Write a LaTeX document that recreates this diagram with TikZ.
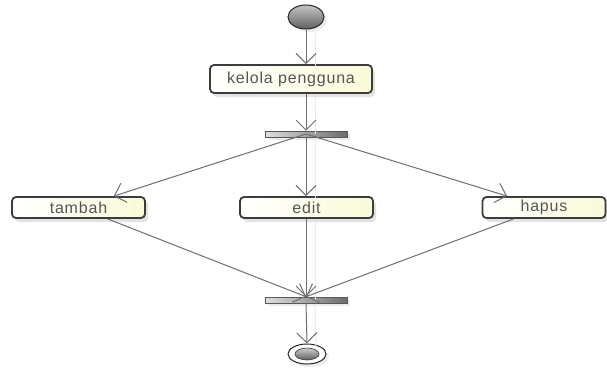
\documentclass[tikz,border=0pt]{standalone}
\usepackage{fontspec}
\newfontfamily\lblfont[LetterSpace=5]{Liberation Sans}
\usetikzlibrary{arrows.meta,shapes.geometric,shadows}
\definecolor{edgegray}{HTML}{6E6E6E}
\definecolor{boxborder}{HTML}{3C3C3C}
\definecolor{txtgray}{HTML}{555555}
\definecolor{cream}{HTML}{FAFAD8}
\tikzset{
  act/.style={draw=boxborder, line width=1.8pt, rounded corners=4pt,
    left color=white, right color=cream, inner sep=0pt,
    font=\lblfont\fontsize{16}{18}\selectfont, text=txtgray,
    drop shadow={shadow xshift=3pt, shadow yshift=-4pt, fill=black!22}},
  bar/.style={draw=gray!70!black, line width=0.6pt, minimum width=82pt,
    minimum height=6pt, inner sep=0pt, left color=gray!25, right color=gray!85!black,
    drop shadow={shadow xshift=3pt, shadow yshift=-3pt, fill=black!15}},
  flow/.style={draw=edgegray, line width=1pt,
    -{Straight Barb[length=10pt,width=20pt,line width=1pt]}},
  flowshadow/.style={draw=black!8, line width=1pt}
}
\begin{document}
\begin{tikzpicture}[x=1pt,y=-1pt]
\useasboundingbox (0,0) rectangle (607,368);
% nodes
\node[ellipse, draw=gray!30!black, line width=1pt, minimum width=36pt, minimum height=24pt,
  inner sep=0pt, top color=gray!45, bottom color=gray!75!black,
  drop shadow={shadow xshift=3pt, shadow yshift=-3pt, fill=black!15}] (start) at (306,17) {};
\node[act, minimum width=162pt, minimum height=28pt] (kelola) at (291,79) {kelola pengguna};
\node[bar] (fork) at (306,134) {};
\node[act, minimum width=133pt, minimum height=21pt] (tambah) at (78.5,207.5) {tambah};
\node[act, minimum width=133pt, minimum height=21pt] (edit) at (306.5,207.5) {edit};
\node[act, minimum width=123pt, minimum height=21pt] (hapus) at (544,207.5) {hapus};
\node[bar] (join) at (306,300) {};
\node[ellipse, draw=gray!30!black, line width=1pt, fill=white, minimum width=38pt,
  minimum height=20pt, inner sep=0pt,
  drop shadow={shadow xshift=3pt, shadow yshift=-3pt, fill=black!15}] (final) at (307,354) {};
\node[ellipse, draw=gray!40!black, line width=0.6pt, top color=gray!40, bottom color=gray!75!black,
  minimum width=24pt, minimum height=12pt, inner sep=0pt] (finalin) at (307,354) {};
% faint shadow connectors
\begin{scope}[transform canvas={xshift=9pt,yshift=-3pt}]
\draw[flowshadow] (start) -- (start |- kelola.north);
\draw[flowshadow] (kelola.south -| fork.north) -- (fork.north);
\draw[flowshadow] (fork.south) -- (edit.north -| fork.south);
\draw[flowshadow] (edit.south -| join.north) -- (join.north);
\draw[flowshadow] (join.south) -- (final.north);
\end{scope}
% connectors
\draw[flow] (start) -- (start |- kelola.north);
\draw[flow] (kelola.south -| fork.north) -- (fork.north);
\draw[flow] (fork.center) -- (tambah);
\draw[flow] (fork.south) -- (edit.north -| fork.south);
\draw[flow] (fork.center) -- (hapus);
\draw[flow] (tambah) -- (join.north);
\draw[flow] (edit.south -| join.north) -- (join.north);
\draw[flow] (hapus) -- (join.north);
\draw[flow] (join.south) -- (final.north);
\end{tikzpicture}
\end{document}
